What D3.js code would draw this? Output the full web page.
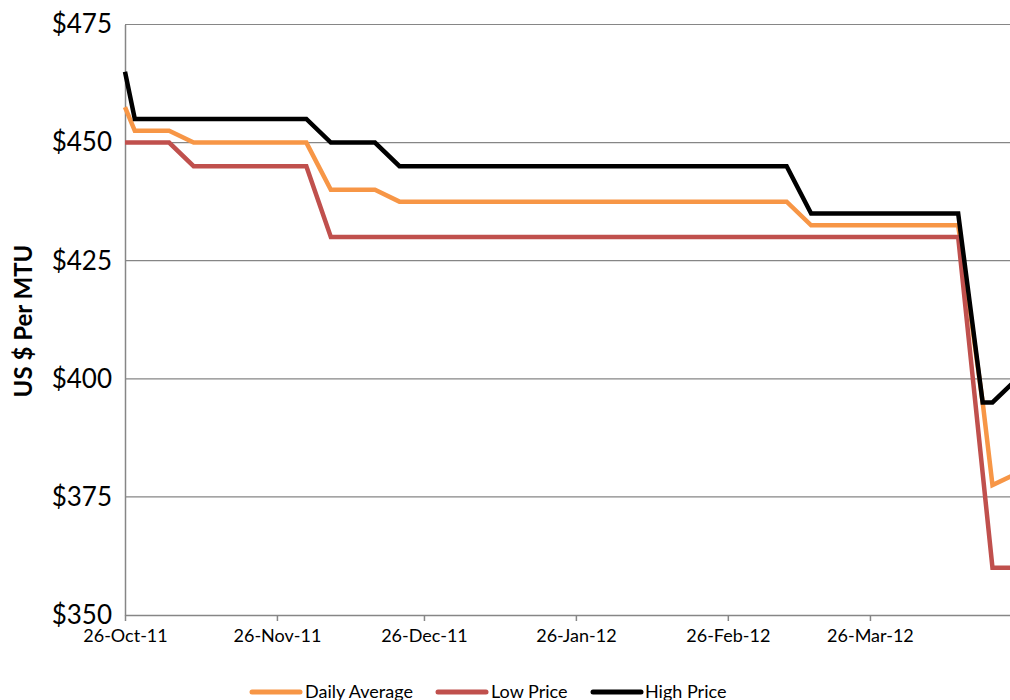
<!DOCTYPE html>
<html>
<head>
<meta charset="utf-8">
<script src="https://cdn.jsdelivr.net/npm/d3@7"></script>
<style>
  html, body { margin: 0; padding: 0; background: #fff; }
  svg { display: block; }
</style>
</head>
<body>
<svg id="chart" width="1010" height="700"></svg>
<script>
// ---- data ----
const dates = ["2011-10-26","2011-10-28","2011-11-04","2011-11-09","2011-12-02","2011-12-07",
               "2011-12-16","2011-12-21","2012-03-09","2012-03-14","2012-04-13","2012-04-18",
               "2012-04-20","2012-04-25"];
const dailyAverage = [457.5, 452.5, 452.5, 450, 450, 440, 440, 437.5, 437.5, 432.5, 432.5, 395, 377.5, 380];
const lowPrice     = [450, 450, 450, 445, 445, 430, 430, 430, 430, 430, 430, 380, 360, 360];
const highPrice    = [465, 455, 455, 455, 455, 450, 450, 445, 445, 435, 435, 395, 395, 400];
const yTicks = [350, 375, 400, 425, 450, 475];
const xTickDates = ["2011-10-26","2011-11-26","2011-12-26","2012-01-26","2012-02-26","2012-03-26"];
const seriesNames = ["Daily Average", "Low Price", "High Price"];
const seriesColors = ["#F79646", "#C0504D", "#000000"];

// ---- layout ----
const svg = d3.select("#chart");
const mLeft = 125, mTop = 24.5, mBottom = 615, mRight = 1010;
const parse = d3.utcParse("%Y-%m-%d");
const dayPx = 4.901;
const x0 = parse("2011-10-26"), x1 = parse("2012-04-26");
const nDays = (x1 - x0) / 864e5;
const x = d3.scaleUtc().domain([x0, x1]).range([mLeft, mLeft + nDays * dayPx]);
const y = d3.scaleLinear().domain([350, 475]).range([mBottom, mTop]);
const font = "Lato, 'Open Sans', sans-serif";
const gray = "#868686";

// gridlines
svg.append("g").selectAll("line").data(yTicks.filter(v => v > 350)).join("line")
  .attr("x1", mLeft).attr("x2", mRight)
  .attr("y1", d => y(d)).attr("y2", d => y(d))
  .attr("stroke", gray).attr("stroke-width", 1.2);

// y axis
const yAxis = d3.axisLeft(y).tickValues(yTicks).tickSize(0).tickPadding(13)
  .tickFormat(d => "$" + d);
const gy = svg.append("g").attr("transform", `translate(${mLeft},0)`).call(yAxis);
gy.select(".domain").attr("stroke", gray).attr("stroke-width", 1.5);
gy.selectAll("text").attr("font-family", font).attr("font-size", 26).attr("fill", "#000");

// x axis
const xAxis = d3.axisBottom(x).tickValues(xTickDates.map(parse)).tickSize(6).tickSizeOuter(0)
  .tickPadding(8).tickFormat(d3.utcFormat("%d-%b-%y"));
const gx = svg.append("g").attr("transform", `translate(0,${mBottom})`).call(xAxis);
gx.select(".domain").attr("stroke", gray).attr("stroke-width", 1.5);
gx.selectAll(".tick line").attr("stroke", gray).attr("stroke-width", 1.5);
gx.selectAll("text").attr("font-family", font).attr("font-size", 18).attr("fill", "#000");

// y title
svg.append("text")
  .attr("transform", "translate(32,321) rotate(-90)")
  .attr("text-anchor", "middle")
  .attr("font-family", font).attr("font-weight", "bold").attr("font-size", 24)
  .text("US $ Per MTU");

// lines
const dd = dates.map(parse);
const line = d3.line().x(d => x(d[0])).y(d => y(d[1]));
const seriesValues = [dailyAverage, lowPrice, highPrice];
seriesValues.forEach((vals, i) => {
  svg.append("path")
    .datum(dd.map((d, j) => [d, vals[j]]))
    .attr("d", line)
    .attr("fill", "none")
    .attr("stroke", seriesColors[i])
    .attr("stroke-width", 4.5)
    .attr("stroke-linejoin", "miter");
});

// legend
const legendItems = [
  {lx: 252, tx: 305},
  {lx: 438, tx: 491},
  {lx: 593, tx: 645}
];
const lg = svg.append("g");
legendItems.forEach((p, i) => {
  lg.append("line").attr("x1", p.lx).attr("x2", p.lx + 48)
    .attr("y1", 692).attr("y2", 692)
    .attr("stroke", seriesColors[i]).attr("stroke-width", 5).attr("stroke-linecap", "round");
  lg.append("text").attr("x", p.tx).attr("y", 698)
    .attr("font-family", font).attr("font-size", 18).attr("fill", "#000")
    .text(seriesNames[i]);
});
</script>
</body>
</html>
